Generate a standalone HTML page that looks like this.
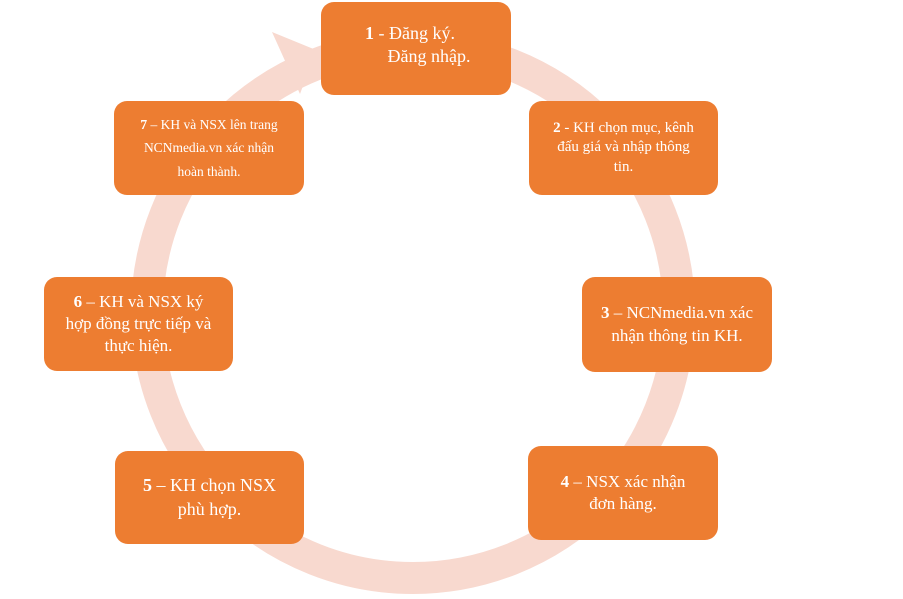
<!DOCTYPE html>
<html><head><meta charset="utf-8"><style>
body{margin:0;width:903px;height:599px;background:#fff;position:relative;overflow:hidden;font-family:"Liberation Serif",serif}
.b{position:absolute;background:#ed7d31;border-radius:13px;color:#fff;display:flex;align-items:center;justify-content:center;text-align:center;line-height:1.3;box-sizing:border-box;padding:0 4px;white-space:nowrap}
</style></head><body>
<svg width="903" height="599" style="position:absolute;left:0;top:0">
<circle cx="413" cy="312" r="266" fill="none" stroke="#f8d9cf" stroke-width="32"/>
<polygon points="272,32 316,50 300,94" fill="#f8d9cf"/>
</svg>
<div class="b" style="left:321px;top:2px;width:190px;height:93px;font-size:18px;display:block;padding-top:20px;text-align:left;padding-left:44px"><b>1</b> - Đăng ký.<br>&nbsp;&nbsp;&nbsp;&nbsp;&nbsp;Đăng nhập.</div>
<div class="b" style="left:529px;top:101px;width:189px;height:94px;font-size:15px"><div><b>2</b> - KH chọn mục, kênh<br>đấu giá và nhập thông<br>tin.</div></div>
<div class="b" style="left:582px;top:277px;width:190px;height:95px;font-size:17px"><div><b>3</b> – NCNmedia.vn xác<br>nhận thông tin KH.</div></div>
<div class="b" style="left:528px;top:446px;width:190px;height:94px;font-size:17px"><div><b>4</b> – NSX xác nhận<br>đơn hàng.</div></div>
<div class="b" style="left:115px;top:451px;width:189px;height:93px;font-size:18px"><div><b>5</b> – KH chọn NSX<br>phù hợp.</div></div>
<div class="b" style="left:44px;top:277px;width:189px;height:94px;font-size:17px"><div><b>6</b> – KH và NSX ký<br>hợp đồng trực tiếp và<br>thực hiện.</div></div>
<div class="b" style="left:114px;top:101px;width:190px;height:94px;font-size:13.5px;line-height:1.75"><div><b>7</b> – KH và NSX lên trang<br>NCNmedia.vn xác nhận<br>hoàn thành.</div></div>
</body></html>
